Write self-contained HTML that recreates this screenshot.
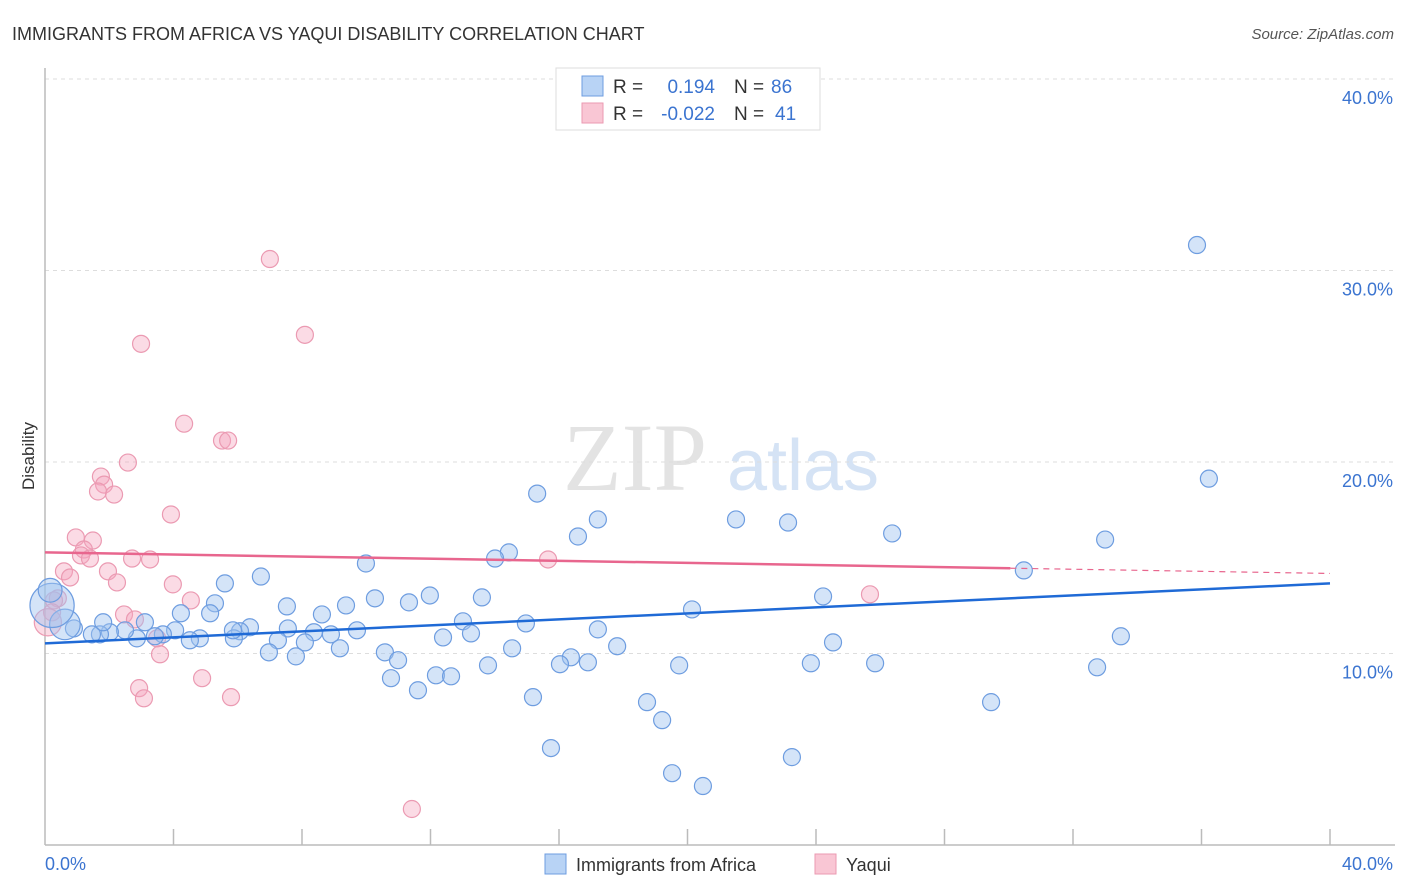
<!DOCTYPE html>
<html><head><meta charset="utf-8"><style>
body{margin:0;background:#fff;font-family:"Liberation Sans",sans-serif;}
svg{display:block}
</style></head><body>
<svg id="chart" width="1406" height="892">
<text x="12" y="40" font-size="18" fill="#333">IMMIGRANTS FROM AFRICA VS YAQUI DISABILITY CORRELATION CHART</text>
<text x="1394" y="39" font-size="15" fill="#555" font-style="italic" text-anchor="end">Source: ZipAtlas.com</text>
<text transform="translate(34,456) rotate(-90)" font-size="17" fill="#333" text-anchor="middle">Disability</text>
<g>
<text x="635" y="490" font-size="96" fill="#e3e3e3" font-family="Liberation Serif,serif" text-anchor="middle">ZIP</text>
<text x="803" y="490" font-size="72" fill="#d5e3f5" text-anchor="middle">atlas</text>
</g>
<g id="grid"></g>
<g id="axes"></g>
<g id="pink"></g>
<g id="blue"></g>
<g id="trends"></g>
<g>
<rect x="556" y="68" width="264" height="62" fill="#fff" stroke="#ddd"/>
<rect x="582" y="76" width="21" height="20" fill="#b8d3f5" stroke="#6e9de0"/>
<rect x="582" y="103" width="21" height="20" fill="#f9c6d4" stroke="#eb9ab2"/>
<text x="613" y="93" font-size="19" fill="#333">R =</text>
<text x="715" y="93" font-size="19" fill="#3b74d0" text-anchor="end">0.194</text>
<text x="734" y="93" font-size="19" fill="#333">N =</text>
<text x="771" y="93" font-size="19" fill="#3b74d0">86</text>
<text x="613" y="120" font-size="19" fill="#333">R =</text>
<text x="715" y="120" font-size="19" fill="#3b74d0" text-anchor="end">-0.022</text>
<text x="734" y="120" font-size="19" fill="#333">N =</text>
<text x="775" y="120" font-size="19" fill="#3b74d0">41</text>
</g>
<g>
<rect x="545" y="854" width="21" height="20" fill="#b8d3f5" stroke="#6e9de0"/>
<text x="576" y="871" font-size="18" fill="#333">Immigrants from Africa</text>
<rect x="815" y="854" width="21" height="20" fill="#f9c6d4" stroke="#eb9ab2"/>
<text x="846" y="871" font-size="18" fill="#333">Yaqui</text>
</g>
</svg>
<script>
const yTicks=[10,20,30,40];
const yTickLabels=["10.0%","20.0%","30.0%","40.0%"];
const xTickCount=10;
const blueX=[35.86,36.23,15.32,17.21,21.51,23.13,26.37,33.0,16.59,14.44,14.01,9.99,30.47,6.72,5.60,11.98,10.27,13.60,9.37,7.53,11.33,24.22,20.14,4.23,5.29,5.14,8.62,13.01,14.97,17.21,33.49,12.39,13.26,6.38,6.07,8.37,9.71,8.90,7.56,4.82,4.51,4.05,3.67,3.42,2.86,2.49,2.02,1.71,1.46,0.90,0.62,0.22,0.16,7.25,8.09,9.18,17.81,24.53,14.54,6.97,7.81,10.58,10.99,16.37,16.90,16.03,13.79,19.74,23.84,25.84,32.75,12.17,12.64,10.77,11.61,15.19,18.74,29.45,19.21,15.75,23.25,19.52,20.48,5.88,3.11,1.81,5.85];
const blueY=[31.33,19.13,18.35,17.0,17.0,16.84,16.27,15.95,16.11,15.28,14.96,14.70,14.34,14.02,13.66,13.03,12.88,12.93,12.51,12.46,12.67,12.98,12.30,12.10,12.62,12.10,12.04,11.68,11.57,11.26,10.90,10.84,11.05,11.37,11.16,11.11,11.21,11.0,11.31,10.79,10.69,11.21,11.0,10.90,10.79,11.21,11.11,11.0,11.0,11.31,11.52,12.51,13.30,10.69,10.58,10.27,10.38,10.58,10.27,10.06,9.85,10.06,9.65,9.80,9.54,9.44,9.38,9.38,9.49,9.49,9.28,8.86,8.81,8.71,8.08,7.72,7.46,7.46,6.52,5.06,4.59,3.75,3.08,10.79,11.63,11.63,11.21];
const blueSize=[1,1,1,1,1,1,1,1,1,1,1,1,1,1,1,1,1,1,1,1,1,1,1,1,1,1,1,1,1,1,1,1,1,1,1,1,1,1,1,1,1,1,1,1,1,1,1,1,1,1,1.8,2.6,1.4];
const pinkX=[7.0,8.09,2.99,4.33,5.51,5.70,2.58,1.74,1.84,1.65,2.15,3.92,0.96,1.49,1.21,1.12,1.40,2.71,3.27,15.66,0.59,0.78,1.96,2.24,3.98,4.54,2.46,0.40,0.28,2.80,25.68,0.22,0.09,3.49,3.58,2.93,3.08,4.89,5.79,11.42];
const pinkY=[30.6,26.64,26.17,22.0,21.12,21.12,19.97,19.24,18.82,18.46,18.30,17.26,16.06,15.90,15.43,15.12,14.96,14.96,14.91,14.91,14.29,13.97,14.29,13.71,13.61,12.77,12.04,12.88,12.77,11.78,13.09,12.15,11.63,10.79,9.96,8.19,7.66,8.71,7.72,1.88];
const pinkSize=[];pinkSize[32]=1.6;
const blueTrend=[10.53,13.66];
const pinkTrend=[15.28,14.18];
const pinkSolidEnd=30.05;

const NS="http://www.w3.org/2000/svg";
const X0=45,X1=1330,Y0=845,Y40=79;
const sx=v=>X0+(X1-X0)*v/40;
const sy=v=>Y0-(Y0-Y40)*v/40;
function mk(parent,tag,attrs){const e=document.createElementNS(NS,tag);for(const k in attrs)e.setAttribute(k,attrs[k]);document.getElementById(parent).appendChild(e);return e;}

yTicks.forEach((t,i)=>{
  const g=mk('grid','line',{x1:X0,x2:1395,y1:sy(t),y2:sy(t),stroke:'#ddd','stroke-dasharray':'4,4'});
  
  
  const l=mk('grid','text',{x:1393,y:sy(t)+25,'font-size':18,fill:'#3b74d0','text-anchor':'end'});
  l.textContent=yTickLabels[i];
  
  
});
let a=mk('axes','line',{x1:X0,x2:X0,y1:68,y2:Y0,stroke:'#bbb','stroke-width':1.5});


a=mk('axes','line',{x1:X0,x2:1395,y1:Y0,y2:Y0,stroke:'#bbb','stroke-width':1.5});


for(let i=1;i<=xTickCount;i++){
  const t=mk('axes','line',{x1:sx(i*4),x2:sx(i*4),y1:829,y2:Y0,stroke:'#bbb','stroke-width':1.5});
  
  
}
let xl=mk('axes','text',{x:45,y:870,'font-size':18,fill:'#3b74d0'});xl.textContent='0.0%';


xl=mk('axes','text',{x:1393,y:870,'font-size':18,fill:'#3b74d0','text-anchor':'end'});xl.textContent='40.0%';



pinkX.forEach((v,i)=>{
  const c=mk('pink','circle',{cx:sx(v),cy:sy(pinkY[i]),r:8.5*(pinkSize[i]||1),fill:'rgba(245,165,190,0.4)',stroke:'#eb9ab2','stroke-width':1.2});
  
  
});
blueX.forEach((v,i)=>{
  const c=mk('blue','circle',{cx:sx(v),cy:sy(blueY[i]),r:8.5*(blueSize[i]||1),fill:'rgba(160,195,240,0.45)',stroke:'#6e9de0','stroke-width':1.2});
  
  
});
let tl=mk('trends','line',{x1:sx(0),x2:sx(40),y1:sy(blueTrend[0]),y2:sy(blueTrend[1]),stroke:'#1f6ad6','stroke-width':2.5});


const pAt=x=>pinkTrend[0]+(pinkTrend[1]-pinkTrend[0])*x/40;
tl=mk('trends','line',{x1:sx(0),x2:sx(pinkSolidEnd),y1:sy(pAt(0)),y2:sy(pAt(pinkSolidEnd)),stroke:'#e8668e','stroke-width':2.5});


tl=mk('trends','line',{x1:sx(pinkSolidEnd),x2:sx(40),y1:sy(pAt(pinkSolidEnd)),y2:sy(pAt(40)),stroke:'#e8668e','stroke-width':1.2,'stroke-dasharray':'6,5'});


</script>
</body></html>
